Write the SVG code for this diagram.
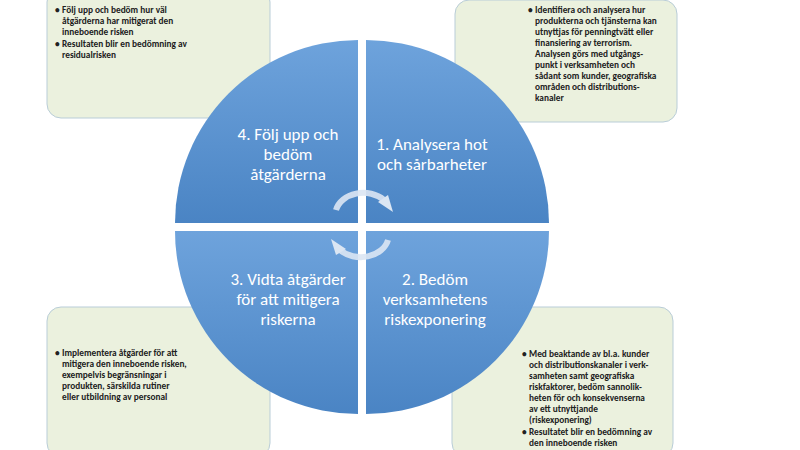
<svg xmlns="http://www.w3.org/2000/svg" width="800" height="450" viewBox="0 0 800 450">
<defs>
<linearGradient id="g" x1="0" y1="0" x2="0" y2="1"><stop offset="0" stop-color="#6ea3dc"/><stop offset="1" stop-color="#4a84c4"/></linearGradient>
<style>
.box{fill:#ebf1de;stroke:#b9cdd8;stroke-width:1}
.q{fill:url(#g)}
.qt{font-family:Carlito,Calibri,"Liberation Sans",sans-serif;font-size:17px;fill:#fff;text-anchor:middle}
.bt{font-family:Carlito,Calibri,"Liberation Sans",sans-serif;font-size:9.3px;font-weight:bold;fill:#222}
.arr{fill:none;stroke:#dbe6f3;stroke-width:6;opacity:0.9}
</style>
</defs>
<rect width="800" height="450" fill="#fff"/>
<g id="box4"><rect class="box" x="47" y="-12" width="223" height="130" rx="14"/>
<text class="bt"><tspan x="55" y="13">•</tspan><tspan x="62" y="13">Följ upp och bedöm hur väl</tspan><tspan x="62" y="24">åtgärderna har mitigerat den</tspan><tspan x="62" y="35">inneboende risken</tspan><tspan x="55" y="47">•</tspan><tspan x="62" y="47">Resultaten blir en bedömning av</tspan><tspan x="62" y="58">residualrisken</tspan></text></g>
<g id="box1"><rect class="box" x="455" y="0" width="222" height="122" rx="14"/>
<text class="bt"><tspan x="528" y="13">•</tspan><tspan x="535" y="13">Identifiera och analysera hur</tspan><tspan x="535" y="24">produkterna och tjänsterna kan</tspan><tspan x="535" y="35">utnyttjas för penningtvätt eller</tspan><tspan x="535" y="46">finansiering av terrorism.</tspan><tspan x="535" y="57">Analysen görs med utgångs-</tspan><tspan x="535" y="68">punkt i verksamheten och</tspan><tspan x="535" y="79">sådant som kunder, geografiska</tspan><tspan x="535" y="90">områden och distributions-</tspan><tspan x="535" y="101">kanaler</tspan></text></g>
<g id="box3"><rect class="box" x="47" y="307" width="223" height="150" rx="14"/>
<text class="bt"><tspan x="55" y="356">•</tspan><tspan x="62" y="356">Implementera åtgärder för att</tspan><tspan x="62" y="367">mitigera den inneboende risken,</tspan><tspan x="62" y="378">exempelvis begränsningar i</tspan><tspan x="62" y="389">produkten, särskilda rutiner</tspan><tspan x="62" y="400">eller utbildning av personal</tspan></text></g>
<g id="box2"><rect class="box" x="452" y="307" width="221" height="150" rx="14"/>
<text class="bt"><tspan x="522" y="357">•</tspan><tspan x="529" y="357">Med beaktande av bl.a. kunder</tspan><tspan x="529" y="368">och distributionskanaler i verk-</tspan><tspan x="529" y="379">samheten samt geografiska</tspan><tspan x="529" y="390">riskfaktorer, bedöm sannolik-</tspan><tspan x="529" y="401">heten för och konsekvenserna</tspan><tspan x="529" y="412">av ett utnyttjande</tspan><tspan x="529" y="423">(riskexponering)</tspan><tspan x="522" y="435">•</tspan><tspan x="529" y="435">Resultatet blir en bedömning av</tspan><tspan x="529" y="446">den inneboende risken</tspan></text></g>
<g id="q4"><path class="q" d="M358 223 H175 A183 183 0 0 1 358 40 Z"/><text class="qt"><tspan x="288" y="140">4. Följ upp och</tspan><tspan x="288" y="160">bedöm</tspan><tspan x="288" y="180">åtgärderna</tspan></text></g>
<g id="q1"><path class="q" d="M366 223 V40 A183 183 0 0 1 549 223 Z"/><text class="qt"><tspan x="432" y="150">1. Analysera hot</tspan><tspan x="432" y="170">och sårbarheter</tspan></text></g>
<g id="q3"><path class="q" d="M358 231 V414 A183 183 0 0 1 175 231 Z"/><text class="qt"><tspan x="288" y="285">3. Vidta åtgärder</tspan><tspan x="288" y="305">för att mitigera</tspan><tspan x="288" y="325">riskerna</tspan></text></g>
<g id="q2"><path class="q" d="M366 231 H549 A183 183 0 0 1 366 414 Z"/><text class="qt"><tspan x="435" y="285">2. Bedöm</tspan><tspan x="435" y="305">verksamhetens</tspan><tspan x="435" y="325">riskexponering</tspan></text></g>
<g id="connectors">
<path class="arr" d="M336 210 A28 22 0 0 1 384 200"/><path fill="#dbe6f3" d="M378 202 L393 212 L388 195 Z"/>
<path class="arr" d="M388 240 A28 22 0 0 1 340 250"/><path fill="#dbe6f3" d="M346 249 L331 239 L336 255 Z"/>
</g>
</svg>
